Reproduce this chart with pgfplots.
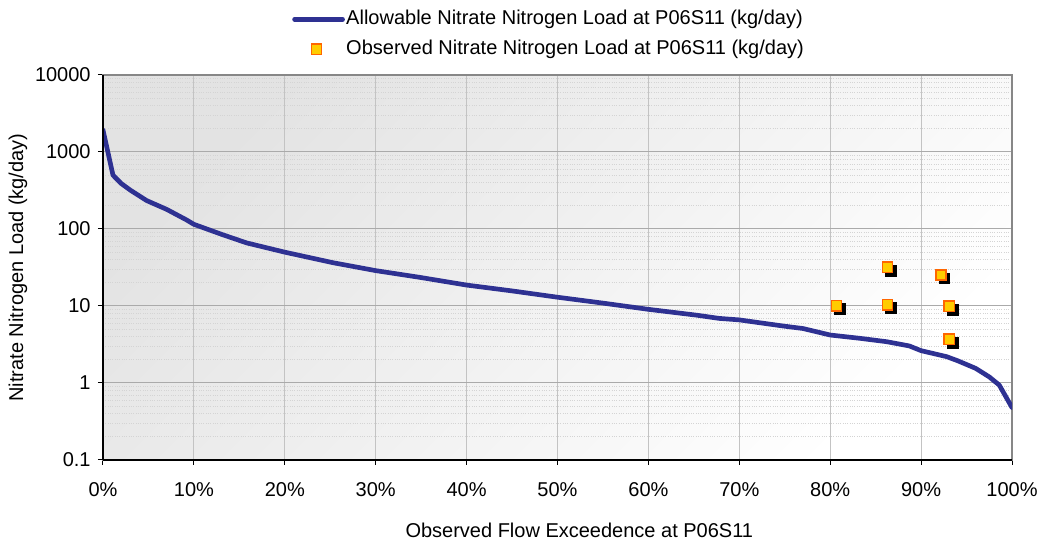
\documentclass[border=0pt]{standalone}
\usepackage{fontspec}
\setmainfont{Liberation Sans}
\usepackage{pgfplots}
\pgfplotsset{compat=1.18}
\definecolor{curveblue}{RGB}{46,49,146}
\definecolor{mkorange}{RGB}{255,102,0}
\definecolor{mkyellow}{RGB}{255,204,0}
\definecolor{majgrid}{RGB}{170,170,170}
\definecolor{vgrid}{RGB}{195,195,195}
\definecolor{mingrid}{RGB}{212,212,212}
\definecolor{topline}{RGB}{135,135,135}
\begin{document}
\begin{tikzpicture}[font=\fontsize{15}{18}\selectfont]
\path[use as bounding box] (-77.25pt,-64.5pt) rectangle (702.75pt,345pt);
\begin{axis}[
  at={(0,0)}, anchor=south west,
  scale only axis, width=681.75pt, height=288.75pt,
  ymode=log,
  xmin=0, xmax=100, ymin=0.1, ymax=10000,
  xtick={0,10,...,100},
  xticklabels={0\%,10\%,20\%,30\%,40\%,50\%,60\%,70\%,80\%,90\%,100\%},
  ytick={0.1,1,10,100,1000,10000},
  yticklabels={0.1,1,10,100,1000,10000},
  xticklabel style={yshift=-10pt},
  yticklabel style={xshift=-2pt},
  minor ytick={0.2,0.3,0.4,0.5,0.6,0.7,0.8,0.9,2,3,4,5,6,7,8,9,20,30,40,50,60,70,80,90,200,300,400,500,600,700,800,900,2000,3000,4000,5000,6000,7000,8000,9000},
  xtick pos=left, ytick pos=left, tick align=outside,
  major tick length=3.75pt, minor tick length=0pt,
  tick style={black, line width=0.75pt},
  xmajorgrids=true, ymajorgrids=true, yminorgrids=true,
  x grid style={vgrid, line width=0.75pt},
  y grid style={majgrid, line width=0.75pt},
  minor y grid style={mingrid, densely dotted, line width=0.6pt},
  axis line style={topline, line width=1pt},
  axis background/.style={shade, top color=black!11, bottom color=white, shading angle=45},
  xlabel={Observed Flow Exceedence at P06S11},
  ylabel={Nitrate Nitrogen Load (kg/day)},
  every axis x label/.style={at={(axis description cs:0.524,-0.1818)}, anchor=center},
  every axis y label/.style={at={(axis description cs:-0.0935,0.5)}, rotate=90, anchor=center},
  legend cell align=left,
  legend style={at={(axis description cs:0.2079,1.1696)}, anchor=north west,
    draw=none, fill=none, inner sep=0pt, row sep=8.5pt, column sep=1pt,
    nodes={inner sep=0pt, text height=11pt, text depth=3pt}},
  after end axis/.code={
    \draw[black, line width=1pt] (rel axis cs:0,0) -- (rel axis cs:0,1);
    \draw[black, line width=1pt] (rel axis cs:0,0) -- (rel axis cs:1,0);
  },
]
\addplot[curveblue, line width=3.5pt, line join=round, line cap=round,
  legend image code/.code={\draw[curveblue, line width=3.5pt] (0pt,0pt) -- (36pt,0pt);}]
  coordinates {
  (0,1930) (1.1,500) (2,390) (3,320) (4.8,234) (7.0,180) (9.2,131) (10,115)
  (13.2,84) (15.8,66) (20,50) (25.3,36.5) (30,28.8) (34.8,23.6) (40,18.7)
  (45,15.7) (50,13.0) (55,10.9) (60,9.05) (65.3,7.6) (67.8,6.9) (70,6.6)
  (74.8,5.5) (77,5.1) (80,4.2) (83.3,3.8) (86.2,3.44) (88.7,3.03) (90,2.63)
  (92.8,2.2) (94,1.95) (96,1.55) (97.5,1.2) (98.6,0.94) (100,0.48)
  };
\addlegendentry{Allowable Nitrate Nitrogen Load at P06S11 (kg/day)}
\addplot[forget plot, only marks, mark=square*, mark size=3.8pt,
  mark options={draw=black, fill=black, line width=1.2pt, xshift=2.6pt, yshift=-2.6pt}]
  coordinates {(80.7,10.1) (86.3,31.8) (86.3,10.4) (92.2,25.3) (93.1,9.9) (93.1,3.69)};
\addplot[only marks, mark=square*, mark size=3.8pt,
  mark options={draw=mkorange, fill=mkyellow, line width=1.2pt},
  legend image code/.code={\fill[draw=mkorange, fill=mkyellow, line width=1.2pt] (12.7pt,-3.8pt) rectangle (20.3pt,3.8pt);}]
  coordinates {(80.7,10.1) (86.3,31.8) (86.3,10.4) (92.2,25.3) (93.1,9.9) (93.1,3.69)};
\addlegendentry{Observed Nitrate Nitrogen Load at P06S11 (kg/day)}
\end{axis}
\end{tikzpicture}
\end{document}
